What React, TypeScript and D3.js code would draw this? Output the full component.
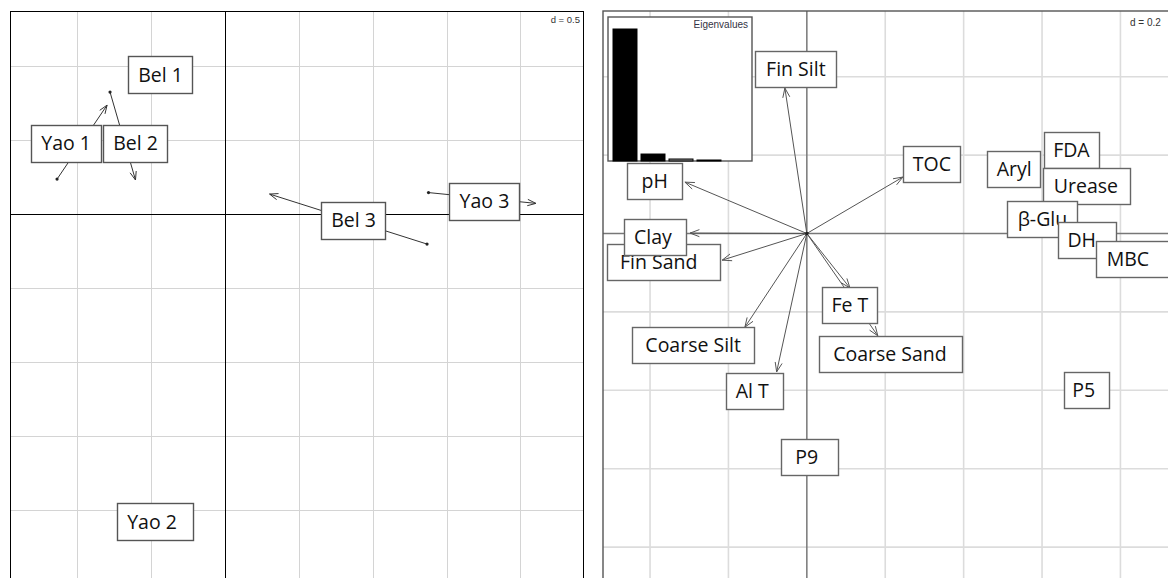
import React, { useEffect, useRef } from 'react';
import * as d3 from 'd3';

// ---- left panel: sites, d = 0.5
const siteNames = ['Bel 1', 'Yao 1', 'Bel 2', 'Bel 3', 'Yao 3', 'Yao 2\u00A0'];
const siteX = [-0.436, -1.074, -0.605, 0.868, 1.753, -0.476];
const siteY = [0.943, 0.48, 0.48, -0.041, 0.088, -2.081];

// arrows between the two tables (start -> end)
const matchNames = ['Yao 1', 'Bel 2', 'Bel 3', 'Yao 3'];
const matchFromX = [-1.135, -0.777, 1.365, 1.375];
const matchFromY = [0.236, 0.824, -0.203, 0.145];
const matchToX = [-0.797, -0.605, 0.301, 2.101];
const matchToY = [0.736, 0.23, 0.135, 0.072];

// ---- right panel: variables, d = 0.2
const varNames = ['Fin Silt', '\u00A0pH\u00A0', 'TOC', 'Fin Sand\u00A0\u00A0', 'Clay\u00A0', 'Fe T', 'Coarse Silt', 'Coarse Sand',
  'Al T\u00A0', '\u00A0P9\u00A0\u00A0', 'P5\u00A0', 'Aryl', 'FDA', 'Urease', 'β-Glu', 'DH\u00A0\u00A0', 'MBC\u00A0\u00A0'];
const varX = [-0.028, -0.388, 0.319, -0.365, -0.386, 0.11, -0.29, 0.212,
  -0.133, 0.006, 0.713, 0.529, 0.675, 0.712, 0.601, 0.714, 0.832];
const varY = [0.42, 0.135, 0.177, -0.073, -0.009, -0.182, -0.284, -0.307,
  -0.403, -0.571, -0.398, 0.165, 0.213, 0.122, 0.037, -0.017, -0.064];

// arrow tips of the vectors drawn from the origin
const vecNames = ['Fin Silt', 'pH', 'TOC', 'Clay', 'Fin Sand', 'Fe T', 'Coarse Sand', 'Coarse Silt', 'Al T'];
const vecX = [-0.056, -0.311, 0.245, -0.298, -0.216, 0.11, 0.181, -0.158, -0.077];
const vecY = [0.371, 0.131, 0.144, 0.001, -0.068, -0.139, -0.261, -0.239, -0.353];

// eigenvalue inset
const eigValues = [5.3, 0.28, 0.08, 0.04];
const eigFills = ['#000', '#000', '#888', '#fff'];

const LEFT_XLIM = [-1.453, 2.419];
const LEFT_YLIM = [-2.6, 1.372];
const RIGHT_XLIM = [-0.52, 0.97];
const RIGHT_YLIM = [-1.0, 0.5676];

const W = 1168;
const H = 578;
const FONT = '"Open Sans", "Noto Sans", sans-serif';

type G = d3.Selection<SVGGElement, unknown, null, undefined>;

function arrow(g: G, x1: number, y1: number, x2: number, y2: number, color: string, len: number) {
  g.append('line').attr('x1', x1).attr('y1', y1).attr('x2', x2).attr('y2', y2)
    .attr('stroke', color).attr('stroke-width', 1);
  const a = Math.atan2(y2 - y1, x2 - x1);
  const spread = 0.36;
  const pts = [a + Math.PI - spread, a + Math.PI + spread].map(t => [x2 + len * Math.cos(t), y2 + len * Math.sin(t)]);
  g.append('path')
    .attr('d', `M${pts[0][0]},${pts[0][1]}L${x2},${y2}L${pts[1][0]},${pts[1][1]}`)
    .attr('fill', 'none').attr('stroke', color).attr('stroke-width', 1);
}

function label(g: G, x: number, y: number, txt: string, h: number, stroke: string) {
  const lg = g.append('g');
  const rect = lg.append('rect');
  const t = lg.append('text')
    .attr('x', x).attr('y', y).attr('dy', '0.36em')
    .attr('text-anchor', 'middle')
    .style('font-family', FONT).style('font-size', '19.5px')
    .attr('fill', '#111')
    .text(txt);
  const w = (t.node() as SVGTextElement).getComputedTextLength();
  const pad = 0.0675 * w + 6.85;
  rect.attr('x', Math.round(x - w / 2 - pad) + 0.5).attr('y', Math.round(y - h / 2) + 0.5)
    .attr('width', Math.round(w + 2 * pad)).attr('height', h)
    .attr('fill', '#fff').attr('stroke', stroke).attr('stroke-width', 1.4);
}

function grid(g: G, x: d3.ScaleLinear<number, number>, y: d3.ScaleLinear<number, number>,
  xlim: number[], ylim: number[], step: number, color: string, width: number) {
  const xs = d3.range(Math.ceil(xlim[0] / step), Math.floor(xlim[1] / step) + 1).map(i => i * step).filter(v => Math.abs(v) > 1e-9);
  const ys = d3.range(Math.ceil(ylim[0] / step), Math.floor(ylim[1] / step) + 1).map(i => i * step).filter(v => Math.abs(v) > 1e-9);
  xs.forEach(v => g.append('line').attr('x1', x(v)).attr('x2', x(v)).attr('y1', y(ylim[0])).attr('y2', y(ylim[1]))
    .attr('stroke', color).attr('stroke-width', width));
  ys.forEach(v => g.append('line').attr('y1', y(v)).attr('y2', y(v)).attr('x1', x(xlim[0])).attr('x2', x(xlim[1]))
    .attr('stroke', color).attr('stroke-width', width));
}

export default function App() {
  const ref = useRef<SVGSVGElement>(null);

  useEffect(() => {
    if (!ref.current) return;
    const svg = d3.select(ref.current);
    svg.selectAll('*').remove();
    svg.append('rect').attr('width', W).attr('height', H).attr('fill', '#fff');

    // ================= left panel =================
    const unitL = (583 - 10) / (LEFT_XLIM[1] - LEFT_XLIM[0]);
    const xL = d3.scaleLinear().domain(LEFT_XLIM).range([10, 583]);
    const yL = d3.scaleLinear().domain(LEFT_YLIM).range([11 + (LEFT_YLIM[1] - LEFT_YLIM[0]) * unitL, 11]);
    const gl = svg.append('g');
    const glines = gl.append('g').attr('shape-rendering', 'crispEdges');
    grid(glines, xL, yL, LEFT_XLIM, LEFT_YLIM, 0.5, '#d4d4d4', 1);
    glines.append('line').attr('x1', xL(0)).attr('x2', xL(0)).attr('y1', yL(LEFT_YLIM[0])).attr('y2', yL(LEFT_YLIM[1]))
      .attr('stroke', '#000').attr('stroke-width', 1);
    glines.append('line').attr('y1', yL(0)).attr('y2', yL(0)).attr('x1', xL(LEFT_XLIM[0])).attr('x2', xL(LEFT_XLIM[1]))
      .attr('stroke', '#000').attr('stroke-width', 1);
    glines.append('rect').attr('x', xL(LEFT_XLIM[0])).attr('y', yL(LEFT_YLIM[1]))
      .attr('width', xL(LEFT_XLIM[1]) - xL(LEFT_XLIM[0])).attr('height', yL(LEFT_YLIM[0]) - yL(LEFT_YLIM[1]))
      .attr('fill', 'none').attr('stroke', '#000').attr('stroke-width', 1);
    gl.append('text').attr('x', xL(LEFT_XLIM[1]) - 3).attr('y', 23).attr('text-anchor', 'end')
      .style('font-family', '"Liberation Sans", Arial, sans-serif').style('font-size', '9.5px').attr('fill', '#333')
      .text('d = 0.5');

    matchNames.forEach((_, i) => {
      arrow(gl, xL(matchFromX[i]), yL(matchFromY[i]), xL(matchToX[i]), yL(matchToY[i]), '#333', 9);
      gl.append('circle').attr('cx', xL(matchFromX[i])).attr('cy', yL(matchFromY[i])).attr('r', 1.6).attr('fill', '#222');
    });
    siteNames.forEach((n, i) => label(gl, xL(siteX[i]), yL(siteY[i]), n, 37, '#555'));

    // ================= right panel =================
    const unitR = 392;
    const xR = d3.scaleLinear().domain(RIGHT_XLIM).range([603, 603 + (RIGHT_XLIM[1] - RIGHT_XLIM[0]) * unitR]);
    const yR = d3.scaleLinear().domain(RIGHT_YLIM).range([11 + (RIGHT_YLIM[1] - RIGHT_YLIM[0]) * unitR, 11]);
    const gr = svg.append('g');
    grid(gr, xR, yR, RIGHT_XLIM, RIGHT_YLIM, 0.2, '#dcdcdc', 1.6);
    gr.append('line').attr('x1', xR(0)).attr('x2', xR(0)).attr('y1', yR(RIGHT_YLIM[0])).attr('y2', yR(RIGHT_YLIM[1]))
      .attr('stroke', '#777').attr('stroke-width', 1.5);
    gr.append('line').attr('y1', yR(0)).attr('y2', yR(0)).attr('x1', xR(RIGHT_XLIM[0])).attr('x2', xR(RIGHT_XLIM[1]))
      .attr('stroke', '#777').attr('stroke-width', 1.5);
    gr.append('rect').attr('x', xR(RIGHT_XLIM[0])).attr('y', yR(RIGHT_YLIM[1]))
      .attr('width', xR(RIGHT_XLIM[1]) - xR(RIGHT_XLIM[0])).attr('height', yR(RIGHT_YLIM[0]) - yR(RIGHT_YLIM[1]))
      .attr('fill', 'none').attr('stroke', '#555').attr('stroke-width', 1.4);
    gr.append('text').attr('x', 1130).attr('y', 26)
      .style('font-family', '"Liberation Sans", Arial, sans-serif').style('font-size', '10px').attr('fill', '#333')
      .text('d = 0.2');

    vecNames.forEach((_, i) => arrow(gr, xR(0), yR(0), xR(vecX[i]), yR(vecY[i]), '#555', 10));
    gr.append('circle').attr('cx', xR(0)).attr('cy', yR(0)).attr('r', 1.8).attr('fill', '#222');
    varNames.forEach((n, i) => label(gr, xR(varX[i]), yR(varY[i]), n, 36, '#666'));

    // eigenvalue inset
    const ge = svg.append('g');
    ge.append('rect').attr('x', 608).attr('y', 17).attr('width', 144).attr('height', 144)
      .attr('fill', '#fff').attr('stroke', '#555').attr('stroke-width', 1.4);
    const xb = d3.scaleBand<number>().domain(d3.range(eigValues.length)).range([611, 723])
      .paddingInner(0.143).paddingOuter(0.0715);
    const yb = d3.scaleLinear().domain([0, d3.max(eigValues) as number]).range([161, 29]);
    eigValues.forEach((v, i) => {
      ge.append('rect').attr('x', xb(i) as number).attr('y', yb(v)).attr('width', xb.bandwidth())
        .attr('height', Math.max(yb(0) - yb(v), 0.5)).attr('fill', eigFills[i]).attr('stroke', '#000').attr('stroke-width', 1);
    });
    ge.append('text').attr('x', 748).attr('y', 28).attr('text-anchor', 'end')
      .style('font-family', '"Liberation Sans", Arial, sans-serif').style('font-size', '10px').attr('fill', '#334')
      .text('Eigenvalues');
  }, []);

  return (
    <div style={{ position: 'absolute', left: 0, top: 0 }}>
      <svg ref={ref} width={W} height={H} style={{ display: 'block' }} />
    </div>
  );
}
